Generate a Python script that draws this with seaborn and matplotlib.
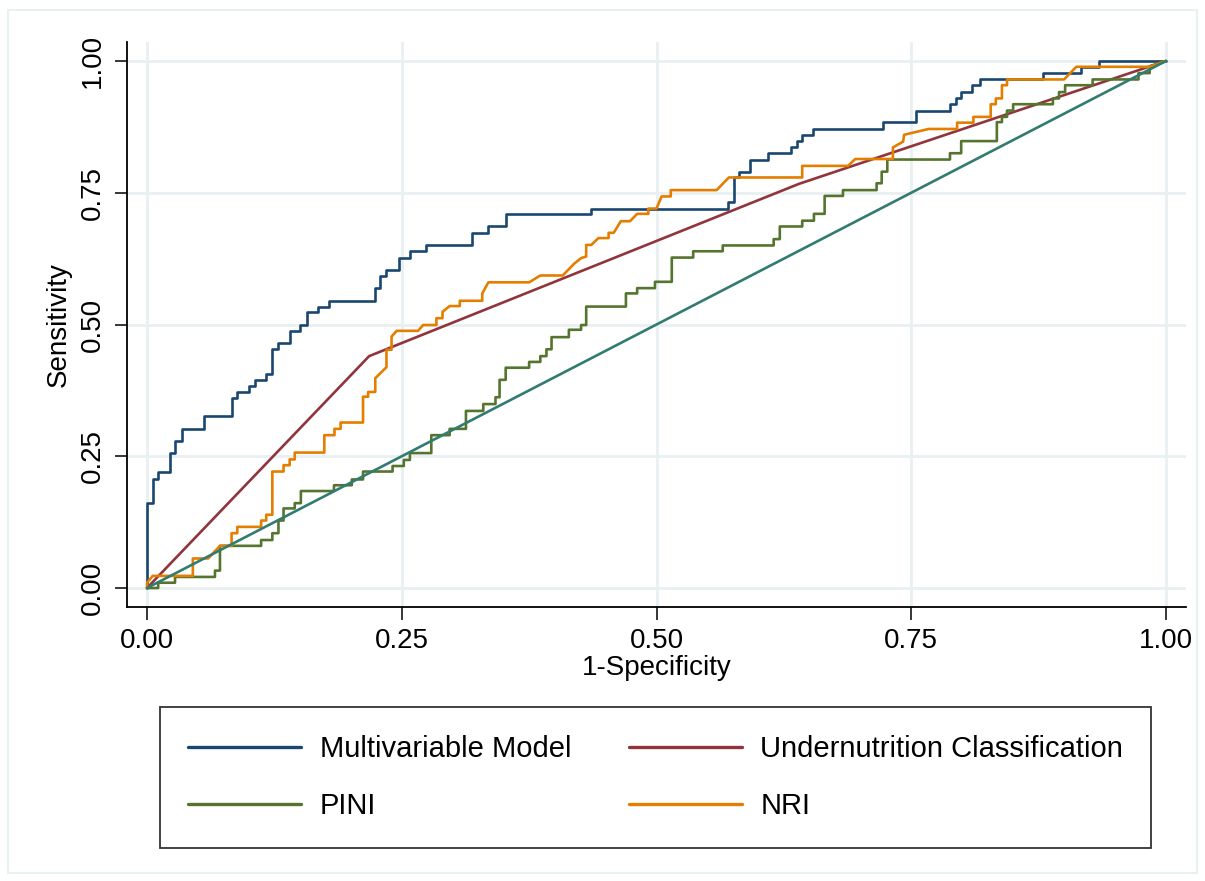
import pandas as pd
import seaborn as sns
import matplotlib.pyplot as plt
from matplotlib.patches import Rectangle

# ROC points: (1-specificity, sensitivity)
multi_roc = [(0, 0), (0, 0.161), (0.0056, 0.161), (0.0056, 0.207), (0.011, 0.207), (0.011, 0.221),
             (0.0226, 0.221), (0.0226, 0.257), (0.0275, 0.257), (0.0275, 0.279), (0.034, 0.279),
             (0.034, 0.302), (0.056, 0.302), (0.056, 0.326), (0.083, 0.326), (0.083, 0.360),
             (0.0886, 0.360), (0.0886, 0.371), (0.100, 0.371), (0.100, 0.383), (0.106, 0.383),
             (0.106, 0.395), (0.117, 0.395), (0.117, 0.406), (0.123, 0.406), (0.123, 0.453),
             (0.129, 0.453), (0.129, 0.464), (0.140, 0.464), (0.140, 0.488), (0.150, 0.488),
             (0.150, 0.499), (0.157, 0.499), (0.157, 0.523), (0.168, 0.523), (0.168, 0.534),
             (0.179, 0.534), (0.179, 0.545), (0.224, 0.545), (0.224, 0.569), (0.229, 0.569),
             (0.229, 0.592), (0.235, 0.592), (0.235, 0.603), (0.247, 0.603), (0.247, 0.627),
             (0.258, 0.627), (0.258, 0.639), (0.274, 0.639), (0.274, 0.651), (0.319, 0.651),
             (0.319, 0.674), (0.335, 0.674), (0.335, 0.686), (0.352, 0.686), (0.352, 0.709),
             (0.436, 0.709), (0.436, 0.719), (0.570, 0.719), (0.570, 0.732), (0.576, 0.732),
             (0.576, 0.779), (0.581, 0.779), (0.581, 0.790), (0.592, 0.790), (0.592, 0.813),
             (0.609, 0.813), (0.609, 0.825), (0.632, 0.825), (0.632, 0.836), (0.638, 0.836),
             (0.638, 0.849), (0.643, 0.849), (0.643, 0.860), (0.654, 0.860), (0.654, 0.871),
             (0.722, 0.871), (0.722, 0.884), (0.755, 0.884), (0.755, 0.906), (0.788, 0.906),
             (0.788, 0.918), (0.794, 0.918), (0.794, 0.929), (0.799, 0.929), (0.799, 0.942),
             (0.810, 0.942), (0.810, 0.954), (0.817, 0.954), (0.817, 0.965), (0.879, 0.965),
             (0.879, 0.977), (0.917, 0.977), (0.917, 0.988), (0.934, 0.988), (0.934, 1.0), (1.0, 1.0)]

undernut_roc = [(0, 0), (0.218, 0.440), (0.640, 0.767), (1.0, 1.0)]

pini_roc = [(0, 0), (0.011, 0), (0.011, 0.010), (0.0275, 0.010), (0.0275, 0.021), (0.0667, 0.021),
            (0.0667, 0.033), (0.0716, 0.033), (0.0716, 0.080), (0.112, 0.080), (0.112, 0.091),
            (0.123, 0.091), (0.123, 0.104), (0.129, 0.104), (0.129, 0.128), (0.134, 0.128),
            (0.134, 0.151), (0.145, 0.151), (0.145, 0.161), (0.151, 0.161), (0.151, 0.184),
            (0.1835, 0.184), (0.1835, 0.195), (0.201, 0.195), (0.201, 0.206), (0.212, 0.206),
            (0.212, 0.221), (0.241, 0.221), (0.241, 0.2315), (0.252, 0.2315), (0.252, 0.243),
            (0.258, 0.243), (0.258, 0.256), (0.279, 0.256), (0.279, 0.290), (0.297, 0.290),
            (0.297, 0.302), (0.313, 0.302), (0.313, 0.336), (0.330, 0.336), (0.330, 0.349),
            (0.342, 0.349), (0.342, 0.362), (0.346, 0.362), (0.346, 0.395), (0.352, 0.395),
            (0.352, 0.418), (0.375, 0.418), (0.375, 0.429), (0.386, 0.429), (0.386, 0.440),
            (0.392, 0.440), (0.392, 0.453), (0.397, 0.453), (0.397, 0.476), (0.414, 0.476),
            (0.414, 0.490), (0.426, 0.490), (0.426, 0.499), (0.431, 0.499), (0.431, 0.534),
            (0.470, 0.534), (0.470, 0.559), (0.481, 0.559), (0.481, 0.569), (0.4985, 0.569),
            (0.4985, 0.581), (0.515, 0.581), (0.515, 0.627), (0.536, 0.627), (0.536, 0.639),
            (0.565, 0.639), (0.565, 0.650), (0.615, 0.650), (0.615, 0.662), (0.621, 0.662),
            (0.621, 0.686), (0.643, 0.686), (0.643, 0.697), (0.6545, 0.697), (0.6545, 0.710),
            (0.665, 0.710), (0.665, 0.744), (0.683, 0.744), (0.683, 0.755), (0.716, 0.755),
            (0.716, 0.768), (0.721, 0.768), (0.721, 0.790), (0.7265, 0.790), (0.7265, 0.813),
            (0.788, 0.813), (0.788, 0.825), (0.799, 0.825), (0.799, 0.848), (0.834, 0.848),
            (0.834, 0.884), (0.839, 0.884), (0.839, 0.894), (0.844, 0.894), (0.844, 0.906),
            (0.850, 0.906), (0.850, 0.918), (0.889, 0.918), (0.889, 0.929), (0.895, 0.929),
            (0.895, 0.941), (0.901, 0.941), (0.901, 0.954), (0.928, 0.954), (0.928, 0.965),
            (0.973, 0.965), (0.973, 0.977), (0.984, 0.977), (0.984, 0.990), (1.0, 1.0)]

nri_roc = [(0, 0), (0, 0.010), (0.0056, 0.023), (0.045, 0.023), (0.045, 0.056), (0.060, 0.056),
           (0.0716, 0.080), (0.083, 0.080), (0.083, 0.104), (0.0886, 0.104), (0.0886, 0.116),
           (0.112, 0.116), (0.112, 0.128), (0.117, 0.128), (0.117, 0.139), (0.123, 0.139),
           (0.123, 0.221), (0.134, 0.221), (0.134, 0.233), (0.140, 0.233), (0.140, 0.244),
           (0.145, 0.244), (0.145, 0.257), (0.174, 0.257), (0.174, 0.290), (0.184, 0.290),
           (0.184, 0.302), (0.190, 0.302), (0.190, 0.314), (0.212, 0.314), (0.212, 0.363),
           (0.217, 0.363), (0.217, 0.372), (0.224, 0.372), (0.224, 0.398), (0.235, 0.419),
           (0.235, 0.452), (0.240, 0.452), (0.240, 0.477), (0.245, 0.488), (0.266, 0.488),
           (0.271, 0.499), (0.284, 0.499), (0.284, 0.512), (0.290, 0.512), (0.290, 0.524),
           (0.297, 0.535), (0.307, 0.535), (0.307, 0.545), (0.329, 0.545), (0.329, 0.559),
           (0.335, 0.580), (0.375, 0.580), (0.386, 0.593), (0.408, 0.593), (0.414, 0.605),
           (0.419, 0.615), (0.426, 0.626), (0.431, 0.629), (0.431, 0.651), (0.436, 0.651),
           (0.443, 0.664), (0.453, 0.664), (0.453, 0.674), (0.458, 0.674), (0.465, 0.696),
           (0.474, 0.696), (0.481, 0.710), (0.492, 0.710), (0.492, 0.720), (0.500, 0.720),
           (0.505, 0.743), (0.514, 0.743), (0.514, 0.755), (0.559, 0.755), (0.571, 0.779),
           (0.643, 0.779), (0.643, 0.801), (0.688, 0.801), (0.695, 0.814), (0.732, 0.814),
           (0.732, 0.836), (0.742, 0.847), (0.743, 0.860), (0.767, 0.871), (0.795, 0.871),
           (0.795, 0.883), (0.811, 0.883), (0.811, 0.894), (0.828, 0.894), (0.828, 0.918),
           (0.833, 0.918), (0.833, 0.929), (0.839, 0.929), (0.839, 0.954), (0.844, 0.954),
           (0.844, 0.965), (0.900, 0.965), (0.912, 0.989), (0.984, 0.989), (1.0, 1.0)]

# chance line
ref_roc = [(0, 0), (1.0, 1.0)]

tick_vals = [0, 0.25, 0.5, 0.75, 1.0]
tick_labels = ["0.00", "0.25", "0.50", "0.75", "1.00"]

sns.set_style("white")
plt.rcParams['font.family'] = ['Liberation Sans', 'DejaVu Sans']
plt.rcParams['text.color'] = 'black'
plt.rcParams['axes.labelcolor'] = 'black'
plt.rcParams['xtick.color'] = 'black'
plt.rcParams['ytick.color'] = 'black'

fig = plt.figure(figsize=(12.05, 8.81), dpi=100)
ax = fig.add_axes([127 / 1205, 1 - 607 / 881, (1186 - 127) / 1205, (607 - 42) / 881])

curves = [
    ("Multivariable Model", multi_roc, "#1a476f"),
    ("Undernutrition Classification", undernut_roc, "#90353b"),
    ("PINI", pini_roc, "#55752f"),
    ("NRI", nri_roc, "#e37e00"),
    ("_ref", ref_roc, "#327b70"),
]
for name, pts, col in curves:
    d = pd.DataFrame(pts, columns=["fpr", "sens"])
    sns.lineplot(data=d, x="fpr", y="sens", sort=False, estimator=None,
                 color=col, linewidth=1.9, label=name, legend=False, ax=ax)

ax.set_xlim(-20 / 1019, 1 + 20 / 1019)
ax.set_ylim(-19 / 527, 1 + 19 / 527)
ax.set_xticks(tick_vals)
ax.set_xticklabels(tick_labels, fontsize=20)
ax.set_yticks(tick_vals)
ax.set_yticklabels(tick_labels, fontsize=20, rotation=90, va='center')
ax.tick_params(direction='out', length=9, width=1.1, color='black', pad=6,
               bottom=True, left=True)
ax.grid(True, color='#e9f0f2', linewidth=2)
ax.set_axisbelow(True)
for s in ['top', 'right']:
    ax.spines[s].set_visible(False)
for s in ['left', 'bottom']:
    ax.spines[s].set_color('black')
    ax.spines[s].set_linewidth(1.3)

ax.set_xlabel("1-Specificity", fontsize=20, labelpad=1)
ax.set_ylabel("Sensitivity", fontsize=20, labelpad=6)

handles, labels = ax.get_legend_handles_labels()
order = [0, 2, 1, 3]
leg = fig.legend([handles[i] for i in order], [labels[i] for i in order],
                 loc='upper left', mode='expand', ncol=2,
                 bbox_to_anchor=(160 / 1205, 1 - 849 / 881, (1151 - 160) / 1205, (849 - 707) / 881),
                 fontsize=21, frameon=True, fancybox=False, edgecolor='black',
                 handlelength=3.9, handletextpad=0.62, labelspacing=1.0,
                 borderpad=0.95, borderaxespad=0)
leg.get_frame().set_linewidth(1.3)
for h in leg.get_lines():
    h.set_linewidth(2.4)

fig.patches.append(Rectangle((8 / 1205, 1 - 873 / 881), 1189 / 1205, 863 / 881,
                             transform=fig.transFigure, fill=False,
                             edgecolor='#e9f0f2', linewidth=1.5))

fig.savefig("out.png", dpi=100)
